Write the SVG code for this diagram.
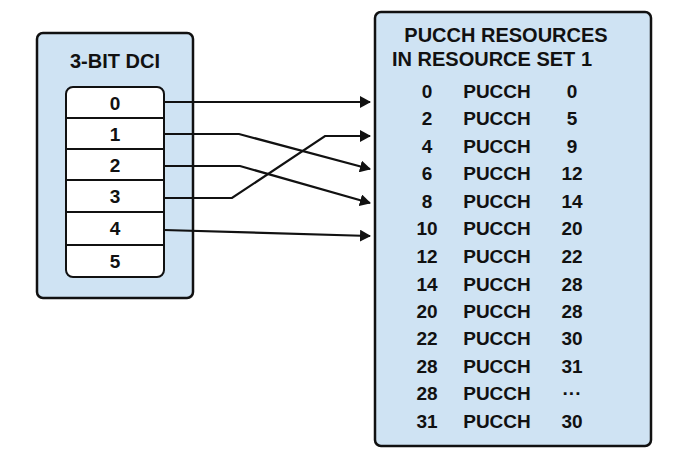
<svg xmlns="http://www.w3.org/2000/svg" width="690" height="460" viewBox="0 0 690 460">
<style>
.p{fill:#cfe3f3;stroke:#111;stroke-width:2.5}
.t{font-family:"Liberation Sans",Arial,sans-serif;font-weight:bold;font-size:19px;fill:#111;text-anchor:middle}
.h{font-size:20px}
.c{fill:none;stroke:#111;stroke-width:2.2}
</style>
<defs><marker id="a" markerWidth="12" markerHeight="12" refX="10" refY="6" orient="auto" markerUnits="userSpaceOnUse"><path d="M0,0L11,6L0,12z" fill="#111"/></marker></defs>
<rect width="690" height="460" fill="#fff"/>
<g id="dci">
<rect class="p" x="37" y="33" width="156" height="265" rx="6"/>
<text class="t h" x="115" y="68">3-BIT DCI</text>
<rect x="66" y="87" width="98" height="190" rx="7" fill="#fff" stroke="#111" stroke-width="2"/>
<path d="M66,118H164M66,149H164M66,180H164M66,212H164M66,245H164" stroke="#111" stroke-width="2"/>
<text class="t" x="115" y="110">0</text><text class="t" x="115" y="141">1</text><text class="t" x="115" y="172">2</text><text class="t" x="115" y="203">3</text><text class="t" x="115" y="235">4</text><text class="t" x="115" y="268">5</text>
</g>
<g id="set1">
<rect class="p" x="375" y="12" width="276" height="434" rx="6"/>
<text class="t h" x="506" y="42">PUCCH RESOURCES</text>
<text class="t h" x="492" y="66">IN RESOURCE SET 1</text>
<g>
<text class="t" x="427" y="98">0</text><text class="t" x="497" y="98">PUCCH</text><text class="t" x="572" y="98">0</text>
<text class="t" x="427" y="125">2</text><text class="t" x="497" y="125">PUCCH</text><text class="t" x="572" y="125">5</text>
<text class="t" x="427" y="153">4</text><text class="t" x="497" y="153">PUCCH</text><text class="t" x="572" y="153">9</text>
<text class="t" x="427" y="180">6</text><text class="t" x="497" y="180">PUCCH</text><text class="t" x="572" y="180">12</text>
<text class="t" x="427" y="208">8</text><text class="t" x="497" y="208">PUCCH</text><text class="t" x="572" y="208">14</text>
<text class="t" x="427" y="235">10</text><text class="t" x="497" y="235">PUCCH</text><text class="t" x="572" y="235">20</text>
<text class="t" x="427" y="263">12</text><text class="t" x="497" y="263">PUCCH</text><text class="t" x="572" y="263">22</text>
<text class="t" x="427" y="291">14</text><text class="t" x="497" y="291">PUCCH</text><text class="t" x="572" y="291">28</text>
<text class="t" x="427" y="318">20</text><text class="t" x="497" y="318">PUCCH</text><text class="t" x="572" y="318">28</text>
<text class="t" x="427" y="345">22</text><text class="t" x="497" y="345">PUCCH</text><text class="t" x="572" y="345">30</text>
<text class="t" x="427" y="373">28</text><text class="t" x="497" y="373">PUCCH</text><text class="t" x="572" y="373">31</text>
<text class="t" x="427" y="400">28</text><text class="t" x="497" y="400">PUCCH</text><text class="t" x="572" y="400">···</text>
<text class="t" x="427" y="428">31</text><text class="t" x="497" y="428">PUCCH</text><text class="t" x="572" y="428">30</text>
</g>
</g>
<g id="connectors">
<path class="c" marker-end="url(#a)" d="M164,102H370"/>
<path class="c" marker-end="url(#a)" d="M164,134H239L370,169"/>
<path class="c" marker-end="url(#a)" d="M164,166H240L370,203"/>
<path class="c" marker-end="url(#a)" d="M164,198H232L325,136H370"/>
<path class="c" marker-end="url(#a)" d="M164,230L370,236"/>
</g>
</svg>
